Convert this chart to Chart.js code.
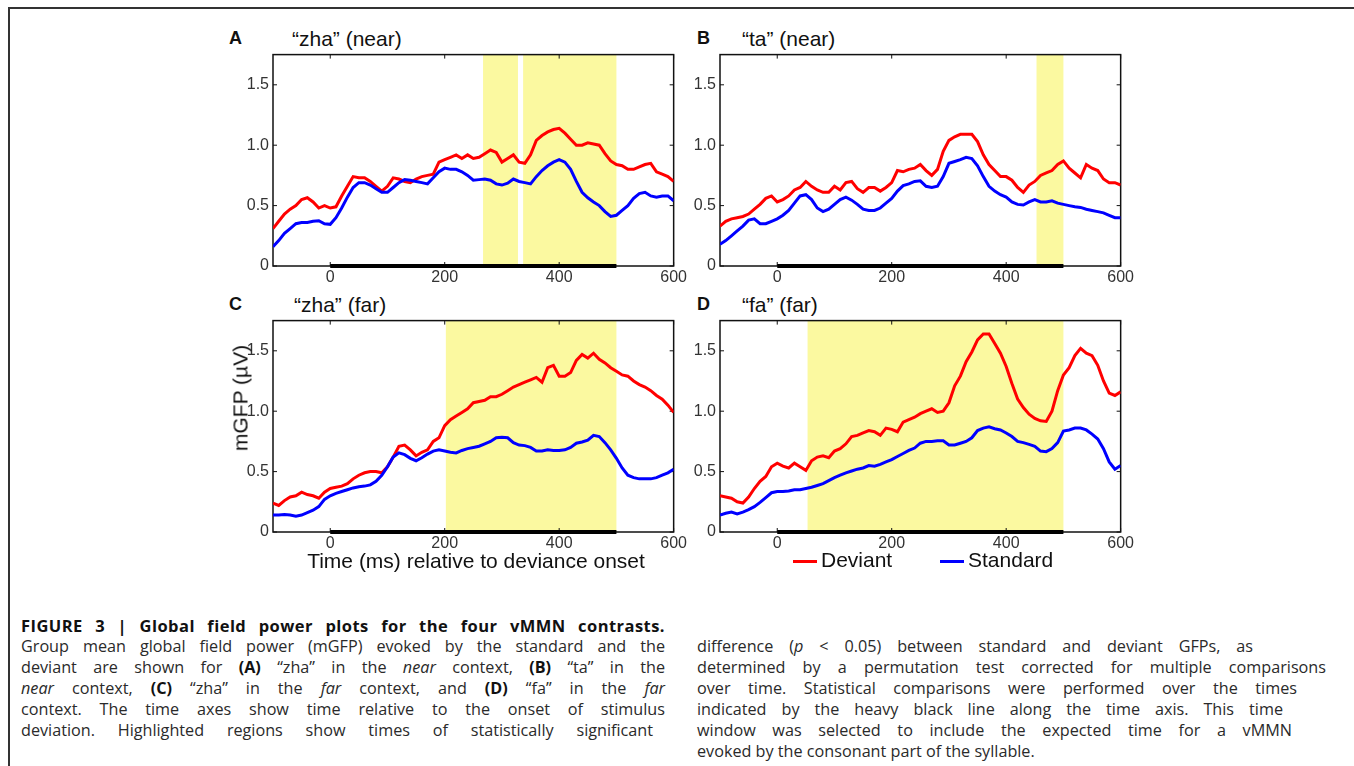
<!DOCTYPE html>
<html lang="en">
<head>
<meta charset="UTF-8">
<title>Global field power plots for the four vMMN contrasts</title>
<script src="https://cdn.jsdelivr.net/npm/chart.js"></script>
<style>
  body { margin: 0; background: #fff; font-family: "Liberation Sans", Arial, sans-serif; }
  #page { position: relative; width: 1354px; height: 766px; overflow: hidden; background: #fff; }
  .frame { position: absolute; left: 8px; top: 7px; right: -4px; bottom: -4px; border-top: 2px solid #333; border-left: 2px solid #333; }
  canvas.panel { position: absolute; }
  .txt { position: absolute; line-height: 1; white-space: nowrap; color: #111; }
  .letter { font-weight: bold; font-size: 18px; }
  .title { font-size: 21px; }
  .axis { font-size: 21px; }
  .swatch { position: absolute; height: 3px; }
  .cap { position: absolute; font-family: "Open Sans", Roboto, sans-serif; font-size: 16.2px; line-height: 21px; color: #2a2a2a; white-space: nowrap; }
  .cap div { text-align: justify; text-align-last: justify; }
  .cap b { color: #111; }
  .cap .head { font-size: 16.5px; letter-spacing: 0.45px; }
</style>
</head>
<body>
<div id="page">
  <div class="frame"></div>

  <div class="txt letter" style="left:229px; top:29px;">A</div>
  <div class="txt title" style="left:292px; top:28px;">“zha” (near)</div>
  <div class="txt letter" style="left:697px; top:29px;">B</div>
  <div class="txt title" style="left:742px; top:28px;">“ta” (near)</div>
  <div class="txt letter" style="left:229px; top:295px;">C</div>
  <div class="txt title" style="left:294px; top:294px;">“zha” (far)</div>
  <div class="txt letter" style="left:697px; top:295px;">D</div>
  <div class="txt title" style="left:742px; top:294px;">“fa” (far)</div>

  <canvas class="panel" id="chartA" width="476" height="255" style="left:213px; top:41px;"></canvas>
  <canvas class="panel" id="chartB" width="476" height="255" style="left:660px; top:41px;"></canvas>
  <canvas class="panel" id="chartC" width="476" height="255" style="left:213px; top:307px;"></canvas>
  <canvas class="panel" id="chartD" width="476" height="255" style="left:660px; top:307px;"></canvas>

  <!-- axis titles (shared) -->
  <div class="txt axis" style="left:240px; top:398px; transform: translate(-50%,-50%) rotate(-90deg);">mGFP (µV)</div>
  <div class="txt axis" style="left:276px; width:400px; text-align:center; top:550px;">Time (ms) relative to deviance onset</div>

  <!-- legend -->
  <div class="swatch" style="left:793px; width:24px; top:560px; background:#ff0000;"></div>
  <div class="txt axis" style="left:821px; top:549px;">Deviant</div>
  <div class="swatch" style="left:940px; width:24px; top:560px; background:#0000ff;"></div>
  <div class="txt axis" style="left:968px; top:549px;">Standard</div>

  <!-- caption -->
  <div class="cap" style="left:21px; top:615px;">
    <div class="head" style="width:644px;"><b>FIGURE 3 | Global field power plots for the four vMMN contrasts.</b></div>
    <div style="width:644px;">Group mean global field power (mGFP) evoked by the standard and the</div>
    <div style="width:644px;">deviant are shown for <b>(A)</b> “zha” in the <i>near</i> context, <b>(B)</b> “ta” in the</div>
    <div style="width:644px;"><i>near</i> context, <b>(C)</b> “zha” in the <i>far</i> context, and <b>(D)</b> “fa” in the <i>far</i></div>
    <div style="width:644px;">context. The time axes show time relative to the onset of stimulus</div>
    <div style="width:632px;">deviation. Highlighted regions show times of statistically significant</div>
  </div>
  <div class="cap" style="left:697px; top:636px;">
    <div style="width:556px;">difference (<i>p</i> &lt; 0.05) between standard and deviant GFPs, as</div>
    <div style="width:629px;">determined by a permutation test corrected for multiple comparisons</div>
    <div style="width:600px;">over time. Statistical comparisons were performed over the times</div>
    <div style="width:586px;">indicated by the heavy black line along the time axis. This time</div>
    <div style="width:595px;">window was selected to include the expected time for a vMMN</div>
    <div style="text-align:left; text-align-last:left;">evoked by the consonant part of the syllable.</div>
  </div>
</div>

<script>
// time axis (ms relative to deviance onset)
const timeMs = [
  -100, -90, -80, -70, -60, -50, -40, -30, -20, -10,
  0, 10, 20, 30, 40, 50, 60, 70, 80, 90,
  100, 110, 120, 130, 140, 150, 160, 170, 180, 190,
  200, 210, 220, 230, 240, 250, 260, 270, 280, 290,
  300, 310, 320, 330, 340, 350, 360, 370, 380, 390,
  400, 410, 420, 430, 440, 450, 460, 470, 480, 490,
  500, 510, 520, 530, 540, 550, 560, 570, 580, 590,
  600
];

const xTicks = [0, 200, 400, 600];
const yTicks = [0, 0.5, 1.0, 1.5];

// window used for the statistics (heavy black line)
const compWindow = [0, 500];

// A: "zha" (near)
const zhaNearDeviant = [
  0.31, 0.37, 0.43, 0.47, 0.50, 0.55, 0.565, 0.53, 0.48, 0.50,
  0.48, 0.49, 0.58, 0.66, 0.74, 0.73, 0.73, 0.70, 0.66, 0.62,
  0.66, 0.73, 0.72, 0.70, 0.69, 0.72, 0.74, 0.75, 0.76, 0.86,
  0.88, 0.90, 0.92, 0.89, 0.92, 0.89, 0.90, 0.93, 0.96, 0.94,
  0.86, 0.89, 0.92, 0.86, 0.85, 0.92, 1.04, 1.08, 1.11, 1.13,
  1.14, 1.10, 1.05, 1.00, 1.00, 1.02, 1.01, 1.00, 0.93, 0.87,
  0.84, 0.83, 0.80, 0.80, 0.82, 0.84, 0.85, 0.78, 0.76, 0.74,
  0.70
];
const zhaNearStandard = [
  0.16, 0.21, 0.27, 0.31, 0.35, 0.36, 0.36, 0.37, 0.375, 0.35,
  0.345, 0.40, 0.48, 0.57, 0.65, 0.69, 0.69, 0.67, 0.64, 0.61,
  0.61, 0.65, 0.69, 0.715, 0.71, 0.70, 0.69, 0.68, 0.73, 0.78,
  0.81, 0.80, 0.80, 0.78, 0.75, 0.71, 0.715, 0.72, 0.71, 0.68,
  0.67, 0.685, 0.72, 0.70, 0.69, 0.68, 0.74, 0.79, 0.83, 0.86,
  0.88, 0.86, 0.80, 0.70, 0.61, 0.565, 0.53, 0.50, 0.45, 0.41,
  0.42, 0.46, 0.50, 0.56, 0.60, 0.61, 0.58, 0.57, 0.58, 0.58,
  0.54
];
const zhaNearSig = [[267, 328], [337, 500]];

// B: "ta" (near)
const taNearDeviant = [
  0.33, 0.37, 0.39, 0.40, 0.41, 0.43, 0.47, 0.51, 0.56, 0.58,
  0.53, 0.55, 0.58, 0.63, 0.65, 0.70, 0.66, 0.63, 0.61, 0.61,
  0.66, 0.63, 0.69, 0.70, 0.64, 0.61, 0.65, 0.65, 0.62, 0.65,
  0.69, 0.79, 0.78, 0.80, 0.81, 0.84, 0.79, 0.75, 0.80, 0.95,
  1.04, 1.07, 1.09, 1.09, 1.09, 1.03, 0.92, 0.84, 0.79, 0.74,
  0.74, 0.71, 0.65, 0.61, 0.67, 0.70, 0.75, 0.77, 0.79, 0.84,
  0.87, 0.81, 0.77, 0.73, 0.84, 0.81, 0.79, 0.72, 0.69, 0.69,
  0.67
];
const taNearStandard = [
  0.18, 0.21, 0.25, 0.29, 0.33, 0.38, 0.39, 0.35, 0.35, 0.37,
  0.39, 0.42, 0.46, 0.52, 0.58, 0.59, 0.55, 0.48, 0.45, 0.47,
  0.51, 0.55, 0.57, 0.545, 0.51, 0.47, 0.46, 0.46, 0.48, 0.52,
  0.56, 0.62, 0.665, 0.68, 0.70, 0.705, 0.66, 0.65, 0.66, 0.74,
  0.85, 0.865, 0.88, 0.90, 0.89, 0.83, 0.74, 0.66, 0.62, 0.59,
  0.57, 0.53, 0.51, 0.505, 0.53, 0.55, 0.53, 0.53, 0.54, 0.52,
  0.51, 0.50, 0.49, 0.485, 0.47, 0.46, 0.45, 0.44, 0.42, 0.40,
  0.40
];
const taNearSig = [[453, 500]];

// C: "zha" (far)
const zhaFarDeviant = [
  0.24, 0.22, 0.26, 0.29, 0.30, 0.33, 0.31, 0.30, 0.28, 0.33,
  0.36, 0.37, 0.38, 0.40, 0.44, 0.47, 0.49, 0.50, 0.50, 0.49,
  0.54, 0.62, 0.71, 0.72, 0.68, 0.63, 0.66, 0.68, 0.75, 0.78,
  0.88, 0.93, 0.96, 0.99, 1.02, 1.07, 1.08, 1.09, 1.12, 1.12,
  1.14, 1.17, 1.20, 1.22, 1.24, 1.26, 1.28, 1.24, 1.36, 1.38,
  1.29, 1.29, 1.32, 1.42, 1.47, 1.44, 1.48, 1.43, 1.40, 1.36,
  1.33, 1.30, 1.29, 1.25, 1.22, 1.20, 1.17, 1.13, 1.10, 1.05,
  0.99
];
const zhaFarStandard = [
  0.14, 0.14, 0.145, 0.14, 0.13, 0.14, 0.16, 0.18, 0.21, 0.27,
  0.30, 0.32, 0.335, 0.35, 0.365, 0.375, 0.38, 0.39, 0.42, 0.47,
  0.54, 0.62, 0.655, 0.64, 0.61, 0.59, 0.615, 0.645, 0.67, 0.68,
  0.67, 0.66, 0.655, 0.675, 0.69, 0.70, 0.71, 0.73, 0.75, 0.78,
  0.785, 0.78, 0.74, 0.72, 0.715, 0.70, 0.67, 0.67, 0.68, 0.675,
  0.675, 0.68, 0.70, 0.735, 0.745, 0.76, 0.80, 0.79, 0.74, 0.68,
  0.61, 0.53, 0.47, 0.45, 0.44, 0.44, 0.44, 0.45, 0.47, 0.49,
  0.52
];
const zhaFarSig = [[202, 500]];

// D: "fa" (far)
const faFarDeviant = [
  0.30, 0.29, 0.28, 0.25, 0.24, 0.29, 0.36, 0.42, 0.46, 0.54,
  0.57, 0.545, 0.53, 0.57, 0.54, 0.51, 0.59, 0.62, 0.63, 0.615,
  0.67, 0.69, 0.73, 0.79, 0.80, 0.82, 0.84, 0.83, 0.80, 0.86,
  0.85, 0.83, 0.91, 0.93, 0.95, 0.98, 1.00, 1.02, 0.99, 1.00,
  1.07, 1.21, 1.29, 1.41, 1.49, 1.59, 1.64, 1.64, 1.56, 1.48,
  1.37, 1.23, 1.10, 1.03, 0.975, 0.94, 0.92, 0.915, 1.00, 1.17,
  1.30, 1.36, 1.46, 1.52, 1.48, 1.46, 1.38, 1.25, 1.15, 1.13,
  1.16
];
const faFarStandard = [
  0.14, 0.155, 0.165, 0.15, 0.165, 0.185, 0.21, 0.245, 0.285, 0.325,
  0.335, 0.335, 0.34, 0.35, 0.35, 0.36, 0.37, 0.385, 0.40, 0.425,
  0.45, 0.47, 0.49, 0.505, 0.52, 0.53, 0.55, 0.545, 0.56, 0.58,
  0.60, 0.625, 0.65, 0.675, 0.695, 0.735, 0.75, 0.75, 0.755, 0.755,
  0.72, 0.72, 0.735, 0.75, 0.78, 0.84, 0.86, 0.87, 0.855, 0.845,
  0.82, 0.79, 0.75, 0.74, 0.725, 0.71, 0.67, 0.665, 0.69, 0.74,
  0.835, 0.845, 0.86, 0.86, 0.845, 0.81, 0.77, 0.69, 0.58, 0.52,
  0.55
];
const faFarSig = [[53, 500]];

const SIG_COLOR = '#fbf9a0';
const DEV_COLOR = '#ff0000';
const STD_COLOR = '#0000ff';

// yellow significance spans, axes box and inward ticks (MATLAB look)
const panelDecor = {
  id: 'panelDecor',
  beforeDatasetsDraw(chart, args, opts) {
    const { ctx, chartArea: a, scales: { x, y } } = chart;
    ctx.save();
    ctx.fillStyle = SIG_COLOR;
    (opts.spans || []).forEach(([s, e]) => {
      const x0 = x.getPixelForValue(s), x1 = x.getPixelForValue(e);
      ctx.fillRect(x0, a.top, x1 - x0, a.bottom - a.top);
    });
    ctx.strokeStyle = '#111';
    ctx.lineWidth = 1.5;
    ctx.strokeRect(a.left, a.top, a.right - a.left, a.bottom - a.top);
    ctx.lineWidth = 1;
    ctx.beginPath();
    x.ticks.forEach(t => {
      const px = x.getPixelForValue(t.value);
      ctx.moveTo(px, a.bottom); ctx.lineTo(px, a.bottom - 4);
      ctx.moveTo(px, a.top); ctx.lineTo(px, a.top + 4);
    });
    y.ticks.forEach(t => {
      const py = y.getPixelForValue(t.value);
      ctx.moveTo(a.left, py); ctx.lineTo(a.left + 4, py);
      ctx.moveTo(a.right, py); ctx.lineTo(a.right - 4, py);
    });
    ctx.stroke();
    ctx.restore();
  }
};

function toPoints(values) {
  return timeMs.map((t, i) => ({ x: t, y: values[i] }));
}

function makeChart(canvasId, deviant, standard, spans) {
  const tickFont = { family: '"Liberation Sans", Arial, sans-serif', size: 16 };
  return new Chart(document.getElementById(canvasId), {
    type: 'line',
    data: {
      datasets: [
        { label: 'Deviant', data: toPoints(deviant), borderColor: DEV_COLOR, borderWidth: 3, pointRadius: 0, tension: 0, order: 2 },
        { label: 'Standard', data: toPoints(standard), borderColor: STD_COLOR, borderWidth: 3, pointRadius: 0, tension: 0, order: 1 },
        { label: 'window', data: [{ x: compWindow[0], y: 0 }, { x: compWindow[1], y: 0 }],
          borderColor: '#000', borderWidth: 4, pointRadius: 0, order: 0, clip: 6 }
      ]
    },
    options: {
      responsive: false,
      animation: false,
      layout: { padding: { top: 10, right: 10, left: 0, bottom: 0 } },
      plugins: {
        legend: { display: false },
        tooltip: { enabled: false },
        panelDecor: { spans: spans }
      },
      scales: {
        x: {
          type: 'linear', min: -100, max: 600,
          grid: { display: false, drawTicks: false },
          border: { display: false },
          afterBuildTicks: s => { s.ticks = xTicks.map(v => ({ value: v })); },
          afterFit: s => { s.height = 30; },
          ticks: { font: tickFont, color: '#333', padding: 2, maxRotation: 0 }
        },
        y: {
          min: 0, max: 1.75,
          grid: { display: false, drawTicks: false },
          border: { display: false },
          afterBuildTicks: s => { s.ticks = yTicks.map(v => ({ value: v })); },
          afterFit: s => { s.width = 60; },
          ticks: { font: tickFont, color: '#333', padding: 4,
                   callback: v => v === 0 ? '0' : v.toFixed(1) }
        }
      }
    },
    plugins: [panelDecor]
  });
}

makeChart('chartA', zhaNearDeviant, zhaNearStandard, zhaNearSig);
makeChart('chartB', taNearDeviant, taNearStandard, taNearSig);
makeChart('chartC', zhaFarDeviant, zhaFarStandard, zhaFarSig);
makeChart('chartD', faFarDeviant, faFarStandard, faFarSig);
</script>
</body>
</html>
